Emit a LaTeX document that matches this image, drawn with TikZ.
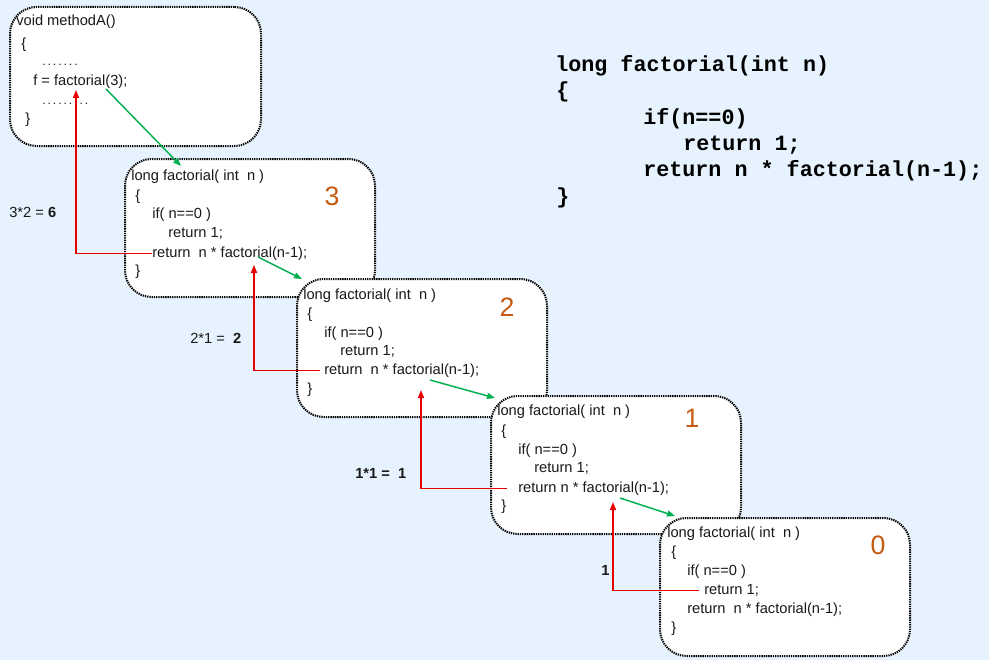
\documentclass[tikz,border=0pt]{standalone}
\usepackage{fontspec}
\setmainfont{Liberation Sans}
\newfontfamily\srcfont{Liberation Mono}
\usetikzlibrary{arrows.meta}
\definecolor{bgblue}{RGB}{230,242,253}
\definecolor{numorange}{RGB}{197,90,17}
\definecolor{callgreen}{RGB}{0,176,80}
\definecolor{retred}{RGB}{230,0,0}
\definecolor{codegray}{RGB}{25,25,25}

\begin{document}
\begin{tikzpicture}[x=0.75pt,y=-0.75pt,
    stackbox/.style={draw,line width=1.5pt,dash pattern=on 1pt off 0.7pt,rounded corners=20pt,fill=white,
        minimum width=187.5pt,minimum height=103.5pt,anchor=north west,inner sep=0pt},
    codeline/.style={anchor=west,inner sep=0pt,text height=8pt,text depth=2.5pt,yshift=-1.2pt,
        font=\fontsize{11}{13}\selectfont,text=codegray},
    depthnum/.style={font=\fontsize{20}{23}\selectfont,text=numorange,inner sep=0pt},
    ret/.style={draw=retred,line width=1.1pt,-{Triangle[length=6pt,width=4.5pt]}},
    call/.style={draw=callgreen,line width=1.1pt,-{Triangle[length=6pt,width=4.5pt]}}]

    \path[use as bounding box,fill=bgblue] (0,0) rectangle (989,660);

    % caller
    \begin{scope}[shift={(9,6)}]
        \node[stackbox,minimum width=188.25pt,minimum height=104.25pt] (boxA) at (0,0) {};
        \node[codeline] (headA) at (7,14) {void methodA()};
        \node[codeline] (openA) at (12,37) {\{};
        \node[codeline,font=\fontsize{9}{11}\selectfont] (dotsA) at (33,54) {.\,.\,.\,.\,.\,.\,.};
        \node[codeline] (callA) at (24,74) {f = factorial(3);};
        \node[codeline,font=\fontsize{9}{11}\selectfont] (dotsB) at (33,93) {.\,.\,.\,.\,.\,.\,.\,.\,.};
        \node[codeline] (closeA) at (16,112) {\}};
        \coordinate (backA) at (67,84);
        \coordinate (outA) at (97,83);
    \end{scope}

    % n = 3
    \begin{scope}[shift={(124,158)}]
        \node[stackbox] (box3) at (0,0) {};
        \node[codeline] (head3) at (7,17) {long factorial( int~~n )};
        \node[codeline] (open3) at (11,37) {\{};
        \node[codeline] (if3) at (28,55) {if( n==0 )};
        \node[codeline] (one3) at (44,74) {return 1;};
        \node[codeline] (ret3) at (28,94) {return~~n * factorial(n-1);};
        \node[codeline] (close3) at (11,112) {\}};
        \node[depthnum] (num3) at (208,38) {3};
        \coordinate (in3) at (57,8);
        \coordinate (back3) at (130,107);
        \coordinate (out3) at (134,99);
    \end{scope}

    % n = 2
    \begin{scope}[shift={(296,278)}]
        \node[stackbox] (box2) at (0,0) {};
        \node[codeline] (head2) at (7,16) {long factorial( int~~n )};
        \node[codeline] (open2) at (11,35) {\{};
        \node[codeline] (if2) at (28,54) {if( n==0 )};
        \node[codeline] (one2) at (44,72) {return 1;};
        \node[codeline] (ret2) at (28,91) {return~~n * factorial(n-1);};
        \node[codeline] (close2) at (11,110) {\}};
        \node[depthnum] (num2) at (211,29) {2};
        \coordinate (in2) at (6,1);
        \coordinate (back2) at (125,112);
        \coordinate (out2) at (134,102);
    \end{scope}

    % n = 1
    \begin{scope}[shift={(490,395)}]
        \node[stackbox] (box1) at (0,0) {};
        \node[codeline] (head1) at (7,15) {long factorial( int~~n )};
        \node[codeline] (open1) at (11,35) {\{};
        \node[codeline] (if1) at (28,54) {if( n==0 )};
        \node[codeline] (one1) at (44,72) {return 1;};
        \node[codeline] (ret1) at (28,92) {return n * factorial(n-1);};
        \node[codeline] (close1) at (11,110) {\}};
        \node[depthnum] (num1) at (202,23) {1};
        \coordinate (in1) at (5,3);
        \coordinate (back1) at (123,107);
        \coordinate (out1) at (130,103);
    \end{scope}

    % n = 0
    \begin{scope}[shift={(659,517)}]
        \node[stackbox] (box0) at (0,0) {};
        \node[codeline] (head0) at (8,15) {long factorial( int~~n )};
        \node[codeline] (open0) at (12,34) {\{};
        \node[codeline] (if0) at (28,53) {if( n==0 )};
        \node[codeline] (one0) at (45,72) {return 1;};
        \node[codeline] (ret0) at (28,91) {return~~n * factorial(n-1);};
        \node[codeline] (close0) at (12,110) {\}};
        \node[depthnum] (num0) at (219,28) {0};
        \coordinate (in0) at (16,-1);
    \end{scope}

    % results
    \node[codeline] (res3) at (9,212) {3*2 = \textbf{6}};
    \node[codeline] (res2) at (190,338) {2*1 =~ \textbf{2}};
    \node[codeline] (res1) at (355,473) {\bfseries 1*1 =~ 1};
    \node[codeline] (res0) at (601,570) {\textbf{1}};

    % source
    \begin{scope}[every node/.style={anchor=base west,inner sep=0pt,font=\srcfont\fontsize{16.3}{19}\selectfont\bfseries}]
        \node (src1) at (555,72) {long factorial(int n)};
        \node (src2) at (556,98) {\{};
        \node (src3) at (643,124) {if(n==0)};
        \node (src4) at (683,150) {return 1;};
        \node (src5) at (643,176) {return n * factorial(n-1);};
        \node (src6) at (556,203) {\}};
    \end{scope}

    % calls and returns
    \draw[call] (outA) -- (in3);
    \draw[call] (out3) -- (in2);
    \draw[call] (out2) -- (in1);
    \draw[call] (out1) -- (in0);

    \draw[ret] (ret3.west) -| (backA);
    \draw[ret] ([xshift=-3pt]ret2.west) -| (back3);
    \draw[ret] ([xshift=-8pt]ret1.west) -| (back2);
    \draw[ret] ([xshift=-4pt]one0.west) -| (back1);

\end{tikzpicture}
\end{document}
